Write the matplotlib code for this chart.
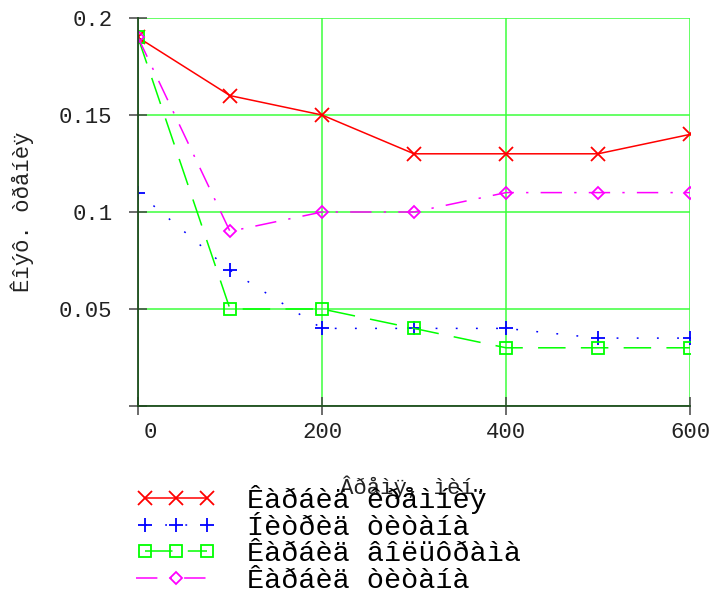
import matplotlib
matplotlib.use("Agg")
import matplotlib.pyplot as plt
import matplotlib.transforms as mtransforms
from matplotlib.legend_handler import HandlerLine2D

# data
time_min = [0, 100, 200, 300, 400, 500, 600]
sic = [0.19, 0.16, 0.15, 0.13, 0.13, 0.13, 0.14]
tin = [0.11, 0.07, 0.04, 0.04, 0.04, 0.035, 0.035]
wc = [0.19, 0.05, 0.05, 0.04, 0.03, 0.03, 0.03]
tic = [0.19, 0.09, 0.10, 0.10, 0.11, 0.11, 0.11]

labels = ["Êàðáèä êðåìíèÿ", "Íèòðèä òèòàíà", "Êàðáèä âîëüôðàìà", "Êàðáèä òèòàíà"]
xticks = [0, 200, 400, 600]
yticks = [0, 0.05, 0.1, 0.15, 0.2]
ytick_labels = ["", "0.05", "0.1", "0.15", "0.2"]
xlabel = "Âðåìÿ, ìèí."
ylabel = "Êîýô. òðåíèÿ"

mono = "Liberation Mono"

fig = plt.figure(figsize=(7.17, 5.97), dpi=100)
ax = fig.add_axes([138 / 717, 1 - 406 / 597, 552 / 717, 388 / 597])

l1, = ax.plot(time_min, sic, color="#ff0000", lw=1.1, marker="x", ms=10, mew=1.3)
l2, = ax.plot(time_min, tin, color="#0000ff", lw=1.1, dashes=(1.2, 12), marker="+", ms=10, mew=1.3)
l3, = ax.plot(time_min, wc, color="#00ff00", lw=1.1, dashes=(18, 10), marker="s", ms=8, mfc="none", mew=1.3)
l4, = ax.plot(time_min, tic, color="#ff00ff", lw=1.1, dashes=(14, 8, 1.5, 8), marker="D", ms=6, mfc="none", mew=1.3)

ax.set_xlim(0, 600)
ax.set_ylim(0, 0.2)
ax.set_xticks(xticks)
ax.set_yticks(yticks)
ax.set_yticklabels(ytick_labels)
ax.grid(True, color="#3cff3c", lw=1.1, zorder=0)
ax.set_axisbelow(True)

for s in ["top", "right"]:
    ax.spines[s].set_visible(False)
for s in ["left", "bottom"]:
    ax.spines[s].set_color("#1e4a1e")
    ax.spines[s].set_linewidth(1.3)

ax.tick_params(direction="inout", length=13, width=1.1, color="#444444")
ax.tick_params(axis="x", pad=5)
ax.tick_params(axis="y", pad=12)
for t in ax.get_xticklabels() + ax.get_yticklabels():
    t.set_fontfamily(mono)
    t.set_fontsize(16)
    t.set_color("#222222")

# the "0" label sits a bit right of its tick
first = ax.get_xticklabels()[0]
first.set_transform(first.get_transform() + mtransforms.ScaledTranslation(12 / 100, 0, fig.dpi_scale_trans))

fig.text(0.577, 1 - 487 / 597, xlabel, family=mono, fontsize=16, ha="center", va="center", color="#222222")
fig.text(22 / 717, 1 - 212 / 597, ylabel, family=mono, fontsize=16, rotation=90, ha="center", va="center", color="#222222")

leg = fig.legend([l1, l2, l3, l4], labels, loc="upper left", bbox_to_anchor=(136 / 717, 1 - 485 / 597),
                 frameon=False, prop={"family": mono, "size": 20.5}, handlelength=2.8, handletextpad=1.1,
                 labelspacing=0.02, borderpad=0, borderaxespad=0, numpoints=3,
                 handler_map={l4: HandlerLine2D(numpoints=1)})

fig.savefig("out.png", dpi=100)
